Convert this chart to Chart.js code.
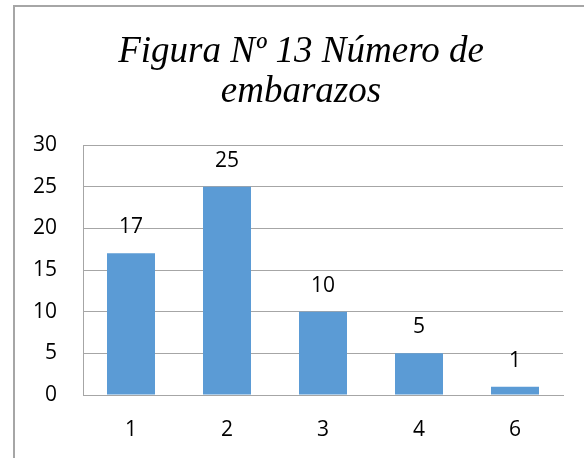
<!DOCTYPE html>
<html>
<head>
<meta charset="utf-8">
<script src="https://cdn.jsdelivr.net/npm/chart.js@4/dist/chart.umd.min.js"></script>
<style>
  html, body { margin: 0; padding: 0; background: #fff; overflow: hidden; width: 584px; height: 458px; }
  #frame { position: absolute; left: 13px; top: 5px; border-left: 2px solid #a6a6a6; border-top: 2px solid #a6a6a6; width: 572px; height: 460px; }
  canvas { display: block; }
</style>
</head>
<body>
<div id="frame"><canvas id="c" width="572" height="451"></canvas></div>
<script>
const categories = ["1", "2", "3", "4", "6"];
const values = [17, 25, 10, 5, 1];
const titleLines = ["Figura Nº 13 Número de", "embarazos"];
const yTicks = { min: 0, max: 30, step: 5 };

const labelFont = { family: "'Open Sans', sans-serif", size: 21 };
const titleFont = "italic 37px 'Liberation Serif', 'Times New Roman', serif";

const dataLabels = {
  id: 'dataLabels',
  afterDatasetsDraw(chart) {
    const ctx = chart.ctx;
    const meta = chart.getDatasetMeta(0);
    ctx.save();
    ctx.font = `${labelFont.size}px ${labelFont.family}`;
    ctx.fillStyle = '#000';
    ctx.textAlign = 'center';
    ctx.textBaseline = 'middle';
    meta.data.forEach((bar, i) => {
      ctx.fillText(String(values[i]), bar.x, bar.y - 26);
    });
    ctx.restore();
  }
};

const chartTitle = {
  id: 'chartTitle',
  afterDraw(chart) {
    const ctx = chart.ctx;
    ctx.save();
    ctx.font = titleFont;
    ctx.fillStyle = '#000';
    ctx.textAlign = 'center';
    ctx.textBaseline = 'alphabetic';
    const cx = chart.width / 2;
    titleLines.forEach((line, i) => {
      ctx.fillText(line, cx, 55 + i * 40);
    });
    ctx.restore();
  }
};

new Chart(document.getElementById('c'), {
  type: 'bar',
  data: {
    labels: categories,
    datasets: [{
      data: values,
      backgroundColor: '#5b9bd5',
      borderWidth: 0,
      categoryPercentage: 1.0,
      barPercentage: 0.5
    }]
  },
  options: {
    responsive: false,
    animation: false,
    layout: { padding: { left: 0, right: 24, top: 138, bottom: 0 } },
    plugins: {
      legend: { display: false },
      tooltip: { enabled: false },
      title: { display: false }
    },
    scales: {
      x: {
        grid: { display: false, drawTicks: false },
        border: { display: true, color: '#a6a6a6', width: 1 },
        ticks: { color: '#000', font: labelFont, padding: 22 },
        afterFit(scale) { scale.height = 63; }
      },
      y: {
        min: yTicks.min,
        max: yTicks.max,
        grid: { color: '#a6a6a6', drawTicks: false, lineWidth: 1 },
        border: { display: true, color: '#a6a6a6', width: 1 },
        ticks: { stepSize: yTicks.step, color: '#000', font: labelFont, padding: 26 },
        afterFit(scale) { scale.width = 68; }
      }
    }
  },
  plugins: [dataLabels, chartTitle]
});
</script>
</body>
</html>
